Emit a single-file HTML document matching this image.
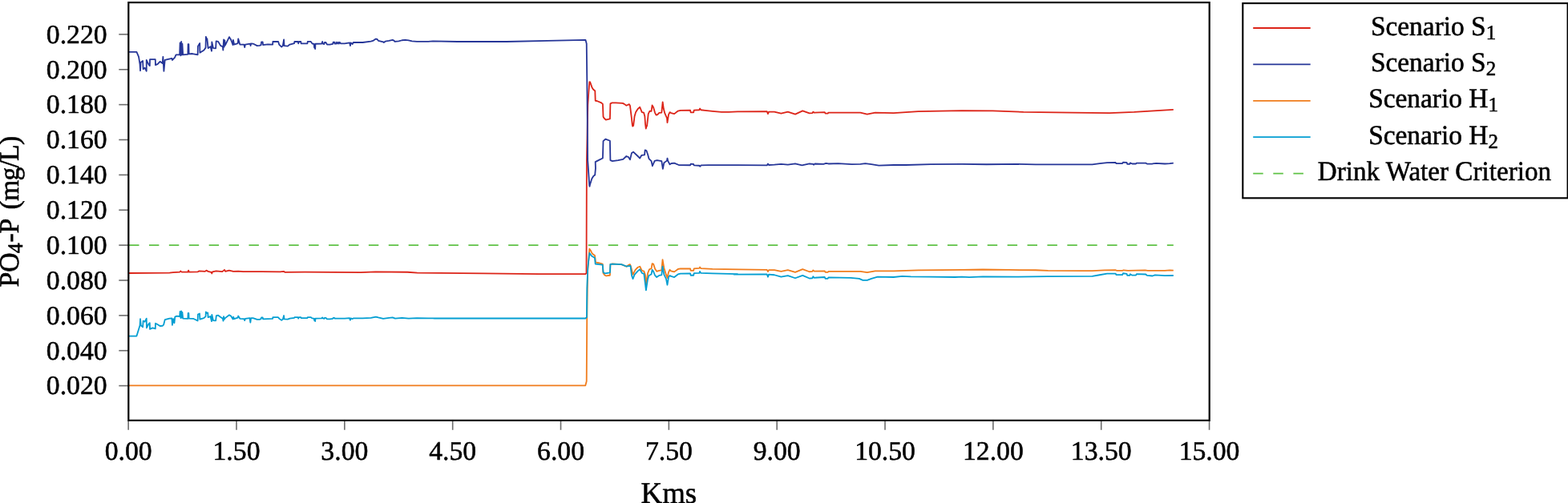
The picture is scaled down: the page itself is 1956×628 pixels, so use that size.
<!DOCTYPE html>
<html lang="en"><head><meta charset="utf-8"><title>PO4-P along river</title>
<style>
html,body{margin:0;padding:0;background:#fff;}
body{width:1956px;height:628px;overflow:hidden;}
svg{display:block;}
text{font-family:"Liberation Serif","Times New Roman",Times,serif;fill:#000;stroke:#000;stroke-width:0.55px;text-rendering:geometricPrecision;}
</style></head><body>
<svg width="1956" height="628" viewBox="0 0 1956 628">
<rect x="0" y="0" width="1956" height="628" fill="#fff"/>
<g stroke="#6c6c6c" stroke-width="1.6" fill="none">
<line x1="148.3" x2="160.3" y1="481.60" y2="481.60"/>
<line x1="148.3" x2="160.3" y1="437.73" y2="437.73"/>
<line x1="148.3" x2="160.3" y1="393.86" y2="393.86"/>
<line x1="148.3" x2="160.3" y1="349.99" y2="349.99"/>
<line x1="148.3" x2="160.3" y1="306.12" y2="306.12"/>
<line x1="148.3" x2="160.3" y1="262.25" y2="262.25"/>
<line x1="148.3" x2="160.3" y1="218.38" y2="218.38"/>
<line x1="148.3" x2="160.3" y1="174.51" y2="174.51"/>
<line x1="148.3" x2="160.3" y1="130.64" y2="130.64"/>
<line x1="148.3" x2="160.3" y1="86.77" y2="86.77"/>
<line x1="148.3" x2="160.3" y1="42.90" y2="42.90"/>
<line x1="160.15" x2="160.15" y1="524.9" y2="536.8"/>
<line x1="294.99" x2="294.99" y1="524.9" y2="536.8"/>
<line x1="429.83" x2="429.83" y1="524.9" y2="536.8"/>
<line x1="564.67" x2="564.67" y1="524.9" y2="536.8"/>
<line x1="699.51" x2="699.51" y1="524.9" y2="536.8"/>
<line x1="834.35" x2="834.35" y1="524.9" y2="536.8"/>
<line x1="969.19" x2="969.19" y1="524.9" y2="536.8"/>
<line x1="1104.03" x2="1104.03" y1="524.9" y2="536.8"/>
<line x1="1238.87" x2="1238.87" y1="524.9" y2="536.8"/>
<line x1="1373.71" x2="1373.71" y1="524.9" y2="536.8"/>
<line x1="1508.55" x2="1508.55" y1="524.9" y2="536.8"/>
</g>
<path d="M160.5 306.1 H1463.8" stroke="#5fc246" stroke-width="1.8" stroke-dasharray="12.45 12.45" stroke-dashoffset="-0.55" fill="none"/>
<path d="M160.43 340.98 L211.35 340.67 L215.95 340.21 L224.39 339.6 L225.15 338.37 L226.69 339.6 L234.36 339.6 L235.12 337.61 L235.89 339.6 L246.63 339.45 L248.16 338.37 L255.83 338.83 L257.36 337.61 L259.66 338.83 L263.5 339.91 L264.26 341.44 L265.03 339.45 L269.63 338.37 L277.3 339.14 L280.06 336.84 L281.13 338.83 L285.74 337.61 L291.1 338.83 L297.24 338.53 L303.37 339.14 L326.38 339.14 L349.39 339.45 L353.99 338.83 L355.52 339.91 L380.06 339.6 L450 340.06 L468.4 339.45 L508.28 339.75 L520.55 340.67 L603.37 341.29 L672.39 342.21 L730.37 342.21 L731.5 341 L731.9 200 L733.3 131 L734.3 115.6 L735.34 102.27 L736.16 102.47 L738.4 108.92 L739.94 111.47 L742.29 113.52 L742.7 125.79 L744.54 125.99 L749.65 128.04 L751.9 129.88 L752.52 145.73 L753.74 147.77 L755.79 149.51 L760.9 148.49 L761.41 129.37 L763.46 128.34 L768.06 128.34 L776.75 128.85 L778.79 129.88 L781.35 131.72 L784.93 130.08 L785.95 131.92 L788 148.28 L788.71 155.44 L789.12 157.69 L789.63 155.44 L790.14 156.97 L791.57 145.21 L793.11 140.1 L795.66 136.01 L798.22 133.76 L800.78 140.1 L803.03 140.61 L804.36 145.21 L805.07 155.44 L805.79 160.55 L806.5 158 L807.12 156.97 L808.75 142.15 L810.49 138.57 L812.54 138.88 L813.56 131.41 L815.09 133.97 L817.14 141.12 L818.67 143.68 L820.2 143.17 L822.25 140.92 L825.32 140.61 L826.65 127.32 L827.87 136.01 L829.41 141.64 L831.96 147.26 L832.47 153.09 L834.01 143.17 L835.54 140.1 L837.08 141.12 L841.17 142.15 L845.77 138.57 L848.83 137.85 L861.1 137.55 L861.62 140.41 L865.19 140.41 L865.71 137.55 L872.35 137.24 L873.17 135.5 L874.4 137.24 L879.51 137.85 L888.71 138.88 L899.96 139.9 L909.16 139.9 L920 139.39 L956.75 139.11 L957.98 142.18 L959.05 139.57 L965.95 139.57 L974.39 141.72 L982.82 139.57 L992.02 142.64 L1001.23 138.34 L1009.66 141.41 L1013.5 141.1 L1014.26 139.57 L1015.8 140.64 L1028.83 140.18 L1029.6 141.72 L1032.67 141.72 L1033.44 140.64 L1061.04 140.64 L1073.31 140.64 L1081.75 142.64 L1091.72 140.64 L1114.72 141.1 L1145.4 139.11 L1200 138.04 L1238.34 138.34 L1276.69 139.88 L1338.04 140.64 L1384.05 141.1 L1414.72 139.88 L1463.8 136.81" stroke="#dc2418" stroke-width="1.8" fill="none" stroke-linejoin="round" stroke-linecap="butt"/>
<path d="M160.74 64.97 L170.45 64.97 L173.01 70.9 L174.54 80.1 L175.05 88.28 L175.56 78.06 L178.12 76.01 L178.63 86.24 L180.67 84.7 L182.72 88.79 L182.72 74.99 L185.28 80.1 L186.81 82.15 L187.01 74.17 L193.76 74.17 L193.97 81.12 L196.52 80.1 L199.59 76.83 L202.66 79.08 L203.37 70.9 L204.4 88.79 L205.73 74.99 L214.42 72.94 L214.93 74.99 L218 71.92 L219.53 68.34 L224.13 68.34 L224.64 53.52 L225.46 69.37 L226.18 51.98 L226.89 68.34 L227.4 54.54 L228.22 68.34 L234.36 67.83 L234.66 55.05 L235.38 55.05 L235.69 67.32 L239.98 67.01 L246.63 68.34 L246.93 57.61 L249.18 54.03 L249.39 65.79 L254.29 62.72 L256.54 59.65 L256.85 45.85 L257.87 48.92 L258.38 48.4 L259.61 60.16 L262.47 58.12 L264.01 63.74 L264.31 52.49 L266.05 60.16 L269.12 60.47 L269.63 51.47 L272.19 51.98 L275.26 57.1 L277.81 58.12 L278.32 62.72 L279.04 49.43 L279.65 58.63 L280.37 50.45 L280.88 56.58 L285.99 46.16 L288.04 49.43 L290.59 56.07 L290.9 49.94 L292.13 55.56 L296.73 54.03 L297.24 48.4 L299.28 55.56 L304.4 55.56 L305.21 59.14 L305.93 55.56 L312.07 54.54 L312.58 57.1 L313.09 54.34 L315.64 54.54 L320.76 57.1 L323.82 56.79 L325.66 56.07 L326.07 52.49 L327.71 52.49 L328.12 56.07 L334.05 55.36 L340.18 55.56 L340.39 51.98 L346.83 51.98 L347.16 51.98 L348.18 55.56 L351.25 58.63 L352.78 57.1 L354.11 49.43 L354.52 57.1 L358.92 57.61 L361.47 55.56 L367.1 54.03 L367.4 51.98 L371.7 51.98 L372.21 54.34 L372.92 51.98 L375.28 51.98 L375.58 54.34 L383.46 54.34 L383.76 51.78 L387.55 51.78 L389.59 54.54 L391.64 54.74 L392.15 59.65 L392.66 56.07 L393.17 61.19 L393.48 54.74 L401.35 54.54 L402.17 51.98 L402.88 54.54 L404.42 55.05 L404.93 53.01 L406.46 53.01 L408 55.56 L411.57 55.56 L415.15 54.85 L415.66 52.7 L417.2 52.7 L417.51 54.54 L419.24 54.54 L419.55 52.7 L420.78 54.54 L421.8 52.7 L422.82 54.54 L423.84 52.7 L424.87 54.34 L429.98 54.34 L436.11 53.31 L436.93 57.1 L437.65 53.31 L439.69 55.05 L440.72 53.01 L452.47 53.01 L462.7 51.68 L465.26 50.96 L468.83 48.61 L470.37 48.92 L471.9 50.76 L478.04 52.29 L478.85 53.01 L480.59 51.68 L485.19 50.96 L489.8 49.94 L490.82 50.25 L492.86 51.98 L497.46 51.27 L501.55 50.25 L505.64 49.94 L509.73 50.45 L513.82 51.47 L519.96 51.78 L534.27 51.78 L540 51.47 L570.67 51.98 L632.02 51.98 L683.15 50.96 L730.49 49.94 L731.72 54.54 L732.5 120 L733.1 200 L733.49 205.11 L735.28 231.7 L735.58 232.72 L735.89 230.67 L738.34 223.01 L740.39 219.68 L742.18 218.4 L742.94 210.22 L742.69 202.3 L742.7 202.15 L746.58 200.1 L751.9 197.55 L752.52 176.07 L755.28 173.72 L760.9 175.77 L761.41 200.1 L763.97 201.12 L771.12 200.1 L777.26 198.88 L781.35 194.99 L783.91 196.01 L785.95 199.39 L788 190.9 L790.04 189.67 L795.66 194.99 L798.22 197.55 L800.27 193.97 L804.05 193.46 L804.66 187.32 L806.4 188.04 L808.14 192.94 L809.47 198.06 L812.54 201.12 L813.87 207.26 L816.63 200.92 L819.69 200.1 L825.32 201.12 L826.85 210.84 L828.38 203.17 L831.96 200.61 L832.47 197.55 L833.29 201.12 L835.54 205.21 L837.59 203.99 L841.17 203.68 L846.79 206.03 L861.1 206.24 L861.62 204.7 L865.19 205.01 L865.71 206.44 L872.35 206.75 L873.37 207.77 L874.4 206.44 L883.6 206.03 L920 206.03 L956.75 206.47 L957.98 204.48 L959.05 206.01 L965.95 205.71 L974.39 204.79 L982.82 205.71 L992.02 204.48 L1000.46 206.32 L1009.66 204.48 L1014.26 204.79 L1015.03 205.71 L1016.56 204.48 L1027.3 204.79 L1030.37 203.87 L1033.44 204.48 L1045.71 204.17 L1062.58 205.09 L1073.31 204.79 L1079.45 204.17 L1087.12 205.09 L1096.32 206.63 L1114.72 206.01 L1130.06 206.01 L1160.74 205.09 L1200 204.94 L1230.67 205.25 L1269.02 204.94 L1292.02 205.4 L1362.58 205.4 L1371.78 204.17 L1380.98 203.1 L1391.72 202.94 L1392.48 204.17 L1400.15 204.17 L1400.92 202.64 L1405.52 202.94 L1406.29 204.79 L1409.36 204.79 L1409.82 203.4 L1412.42 204.48 L1417.02 204.48 L1417.79 203.56 L1429.29 203.56 L1430.83 204.63 L1437.73 204.48 L1442.33 203.87 L1453.07 204.48 L1459.2 204.17 L1463.8 203.71" stroke="#263698" stroke-width="1.8" fill="none" stroke-linejoin="round" stroke-linecap="butt"/>
<path d="M160.6 481.35 L730.3 481.35 L731.7 476 L732.2 400 L733 340 L735.34 310.74 L736.87 312.78 L738.92 316.87 L741.98 318.92 L743.01 327.61 L746.58 328.12 L751.7 329.65 L752.52 340.9 L754.25 343.46 L756.3 344.48 L760.9 343.76 L761.41 330.16 L763.97 329.45 L775.21 330.16 L781.35 332.72 L784.42 330.67 L785.95 330.16 L786.97 332.72 L789.53 342.94 L792.6 336.81 L795.66 333.74 L798.22 332.72 L800.78 337.83 L803.33 338.65 L804.87 342.94 L806.2 355.21 L808.14 340.9 L809.98 336.3 L812.54 335.28 L813.56 329.14 L815.09 329.65 L817.14 335.79 L819.18 338.85 L822.25 337.83 L825.32 337.32 L826.54 324.03 L828.38 334.76 L830.94 342.94 L832.47 347.03 L834.01 339.88 L835.54 336.81 L837.08 338.34 L841.17 339.37 L845.77 335.99 L848.83 335.48 L861.1 335.28 L861.62 337.83 L865.19 337.83 L865.71 335.28 L872.35 334.97 L873.07 333.54 L874.19 335.07 L888.71 335.79 L920 336.3 L956.75 336.81 L957.98 339.11 L959.05 337.12 L965.95 337.12 L974.39 338.8 L982.82 337.12 L992.02 339.88 L1001.23 336.2 L1009.66 339.26 L1013.5 338.96 L1014.26 337.42 L1015.8 338.65 L1028.83 338.34 L1029.6 339.88 L1032.67 339.88 L1033.44 338.96 L1061.04 338.96 L1073.31 338.96 L1081.75 340.18 L1091.72 338.34 L1114.72 338.34 L1145.4 337.42 L1200 336.81 L1226.07 336.5 L1258.28 336.96 L1292.02 337.27 L1307.36 337.88 L1353.37 338.19 L1362.58 338.04 L1377.91 337.42 L1391.72 337.27 L1393.25 337.88 L1400.15 337.88 L1401.69 337.27 L1407.06 337.88 L1417.79 337.58 L1428.53 337.42 L1431.6 337.88 L1453.07 337.88 L1459.2 337.42 L1463.8 337.58" stroke="#f07c1c" stroke-width="1.8" fill="none" stroke-linejoin="round" stroke-linecap="butt"/>
<path d="M160.74 419.59 L170.45 419.59 L174.54 406.3 L175.05 398.12 L175.77 406.3 L178.12 408.34 L178.63 400.67 L180.67 401.7 L182.72 397.61 L182.92 409.37 L185.28 404.76 L186.81 403.23 L187.01 410.9 L190.39 409.37 L193.76 410.39 L193.97 403.74 L196.01 404.76 L199.59 407.01 L202.66 406.81 L204.19 405.28 L205.73 399.14 L211.35 397.61 L214.42 397.4 L214.93 405.79 L216.26 398.12 L217.48 403.23 L218.3 395.56 L220.55 394.54 L224.13 395.05 L224.64 388.92 L225.46 397.1 L226.18 388.4 L226.89 396.58 L227.4 389.94 L228.22 397.61 L234.36 397.81 L234.66 390.96 L235.38 390.96 L235.69 397.61 L241 397.81 L246.63 400.47 L246.93 392.49 L248.98 391.47 L249.39 398.63 L254.29 397.1 L256.54 395.05 L256.85 389.43 L257.87 390.96 L259.2 390.45 L259.61 396.07 L262.47 395.05 L264.01 401.19 L264.31 393.01 L266.05 400.16 L269.12 400.47 L269.84 394.03 L272.19 393.72 L275.26 396.07 L277.81 397.61 L278.53 400.67 L279.04 395.05 L279.86 398.63 L280.88 397.1 L285.99 393.31 L288.04 394.54 L290.59 398.43 L291.1 395.56 L292.13 398.12 L296.73 396.58 L297.24 394.54 L299.28 397.81 L304.4 398.12 L305.21 400.16 L305.93 397.81 L311.55 397.1 L312.37 402.72 L313.09 397.1 L315.64 397.1 L320.76 398.83 L323.82 398.83 L325.66 398.12 L326.07 396.38 L327.71 396.38 L328.12 398.43 L334.05 398.12 L340.18 397.81 L340.39 396.07 L346.83 396.07 L347.16 396.38 L348.69 398.12 L351.25 399.86 L352.78 398.63 L354.11 394.03 L354.52 398.43 L358.92 398.63 L361.47 397.61 L367.1 396.79 L367.4 396.07 L371.7 396.07 L372.21 397.61 L372.92 396.07 L375.28 396.07 L375.58 397.1 L383.46 397.1 L383.76 396.07 L387.55 396.07 L389.59 397.4 L391.64 397.61 L392.15 400.16 L392.66 398.12 L393.17 401.19 L393.48 397.61 L401.35 397.4 L402.17 396.38 L402.88 397.4 L404.42 397.81 L404.93 396.79 L406.46 396.79 L408 398.43 L411.57 398.43 L415.15 397.81 L415.66 396.79 L417.2 396.79 L417.51 397.61 L424.87 397.61 L429.98 397.61 L436.11 397.1 L436.93 399.65 L437.65 397.4 L439.69 398.12 L440.72 397.4 L452.47 397.4 L462.7 396.79 L468.83 395.56 L471.9 396.38 L478.04 397.81 L485.19 396.79 L489.8 396.38 L492.86 397.61 L501.55 396.79 L509.73 397.61 L519.96 397.1 L534.27 397.4 L540 397.4 L542.02 397.5 L730.37 397.5 L731.9 396 L732.3 360 L733.2 335 L735.34 315.85 L737.89 319.43 L741.98 321.98 L742.7 329.65 L751.7 330.67 L752.52 339.88 L754.76 341.41 L760.9 340.39 L761.41 329.86 L763.97 329.65 L775.21 330.16 L781.35 332.52 L786.46 331.9 L788 343.97 L789.53 348.06 L791.57 342.94 L795.66 338.34 L798.22 336.3 L800.78 340.9 L803.33 341.92 L804.66 352.15 L805.89 362.37 L807.93 349.08 L809.47 343.97 L812.54 342.43 L813.56 336.81 L815.09 338.85 L817.14 343.97 L819.18 346.01 L822.25 343.97 L825.32 343.46 L826.54 332.72 L828.38 342.94 L830.94 348.06 L832.47 355.73 L834.01 346.01 L835.54 343.97 L837.08 344.99 L841.17 346.01 L845.77 342.43 L848.83 341.72 L861.1 341.41 L861.62 343.76 L865.19 343.76 L865.71 341.21 L872.35 340.9 L873.07 338.85 L874.19 340.9 L888.71 341.41 L920 342.13 L915.34 342.64 L956.75 342.48 L957.98 345.71 L959.05 342.64 L965.95 343.25 L974.39 345.71 L982.82 344.17 L992.02 347.24 L1001.23 343.87 L1009.66 347.55 L1013.5 347.24 L1014.26 345.25 L1015.8 346.78 L1028.83 346.01 L1029.6 347.85 L1032.67 347.85 L1033.44 346.32 L1061.04 346.78 L1071.78 347.85 L1076.38 349.85 L1081.75 349.85 L1087.12 347.85 L1094.79 345.71 L1114.72 346.01 L1125.46 344.94 L1136.2 345.4 L1160.74 345.71 L1191.41 346.01 L1200 345.55 L1209.2 346.17 L1226.07 345.4 L1267.48 345.71 L1307.36 345.09 L1362.58 344.79 L1371.78 343.25 L1380.98 341.72 L1391.72 341.56 L1392.48 343.1 L1400.15 343.1 L1400.92 341.26 L1405.52 341.87 L1406.29 343.87 L1409.36 343.87 L1409.82 342.18 L1412.42 343.71 L1417.02 343.71 L1417.79 342.18 L1429.29 342.48 L1430.83 343.87 L1437.73 344.48 L1440.8 343.4 L1453.07 344.17 L1463.8 344.02" stroke="#039ed2" stroke-width="1.8" fill="none" stroke-linejoin="round" stroke-linecap="butt"/>
<rect x="160.3" y="3.1" width="1348.40" height="521.80" fill="none" stroke="#000" stroke-width="2.2"/>
<text transform="translate(133.60 492.40) scale(1.0 0.985)" font-size="33.7" text-anchor="end">0.020</text>
<text transform="translate(133.60 448.53) scale(1.0 0.985)" font-size="33.7" text-anchor="end">0.040</text>
<text transform="translate(133.60 404.66) scale(1.0 0.985)" font-size="33.7" text-anchor="end">0.060</text>
<text transform="translate(133.60 360.79) scale(1.0 0.985)" font-size="33.7" text-anchor="end">0.080</text>
<text transform="translate(133.60 316.92) scale(1.0 0.985)" font-size="33.7" text-anchor="end">0.100</text>
<text transform="translate(133.60 273.05) scale(1.0 0.985)" font-size="33.7" text-anchor="end">0.120</text>
<text transform="translate(133.60 229.18) scale(1.0 0.985)" font-size="33.7" text-anchor="end">0.140</text>
<text transform="translate(133.60 185.31) scale(1.0 0.985)" font-size="33.7" text-anchor="end">0.160</text>
<text transform="translate(133.60 141.44) scale(1.0 0.985)" font-size="33.7" text-anchor="end">0.180</text>
<text transform="translate(133.60 97.57) scale(1.0 0.985)" font-size="33.7" text-anchor="end">0.200</text>
<text transform="translate(133.60 53.70) scale(1.0 0.985)" font-size="33.7" text-anchor="end">0.220</text>
<text transform="translate(160.15 574.20) scale(1.0 0.985)" font-size="33.7" text-anchor="middle">0.00</text>
<text transform="translate(294.99 574.20) scale(1.0 0.985)" font-size="33.7" text-anchor="middle">1.50</text>
<text transform="translate(429.83 574.20) scale(1.0 0.985)" font-size="33.7" text-anchor="middle">3.00</text>
<text transform="translate(564.67 574.20) scale(1.0 0.985)" font-size="33.7" text-anchor="middle">4.50</text>
<text transform="translate(699.51 574.20) scale(1.0 0.985)" font-size="33.7" text-anchor="middle">6.00</text>
<text transform="translate(834.35 574.20) scale(1.0 0.985)" font-size="33.7" text-anchor="middle">7.50</text>
<text transform="translate(969.19 574.20) scale(1.0 0.985)" font-size="33.7" text-anchor="middle">9.00</text>
<text transform="translate(1104.03 574.20) scale(1.0 0.985)" font-size="33.7" text-anchor="middle">10.50</text>
<text transform="translate(1238.87 574.20) scale(1.0 0.985)" font-size="33.7" text-anchor="middle">12.00</text>
<text transform="translate(1373.71 574.20) scale(1.0 0.985)" font-size="33.7" text-anchor="middle">13.50</text>
<text transform="translate(1508.55 574.20) scale(1.0 0.985)" font-size="33.7" text-anchor="middle">15.00</text>
<text transform="translate(834.40 628.30) scale(0.995 1.02)" font-size="37" text-anchor="middle">Kms</text>
<text transform="translate(23.00 358.60) rotate(-90) scale(1.0 1.03)" font-size="33.7" text-anchor="start">PO<tspan x="42.4" font-size="25.95" dy="4.89">4</tspan><tspan x="56.0" dy="-4.89">-P </tspan><tspan x="97.1" letter-spacing="-0.75">(mg/L)</tspan></text>
<rect x="1550.3" y="4.1" width="405.30" height="243.20" fill="#fff" stroke="#000" stroke-width="2.1"/>
<line x1="1563.2" x2="1634.7" y1="35.00" y2="35.00" stroke="#dc2418" stroke-width="1.8"/>
<text transform="translate(1788.00 43.85) scale(0.985 1.01)" font-size="33.9" text-anchor="middle">Scenario S<tspan font-size="25.28" dy="4.89">1</tspan></text>
<line x1="1563.2" x2="1634.7" y1="80.40" y2="80.40" stroke="#263698" stroke-width="1.8"/>
<text transform="translate(1788.00 89.15) scale(0.985 1.01)" font-size="33.9" text-anchor="middle">Scenario S<tspan font-size="25.28" dy="4.89">2</tspan></text>
<line x1="1563.2" x2="1634.7" y1="125.80" y2="125.80" stroke="#f07c1c" stroke-width="1.8"/>
<text transform="translate(1788.00 134.45) scale(0.985 1.01)" font-size="33.9" text-anchor="middle">Scenario H<tspan font-size="25.28" dy="4.89">1</tspan></text>
<line x1="1563.2" x2="1634.7" y1="171.20" y2="171.20" stroke="#039ed2" stroke-width="1.8"/>
<text transform="translate(1788.00 179.75) scale(0.985 1.01)" font-size="33.9" text-anchor="middle">Scenario H<tspan font-size="25.28" dy="4.89">2</tspan></text>
<line x1="1563.2" x2="1634.7" y1="216.60" y2="216.60" stroke="#5fc246" stroke-width="1.8" stroke-dasharray="12.5 12.6"/>
<text transform="translate(1789.40 225.10) scale(0.978 1.01)" font-size="33.9" text-anchor="middle">Drink Water Criterion</text>
</svg></body></html>
